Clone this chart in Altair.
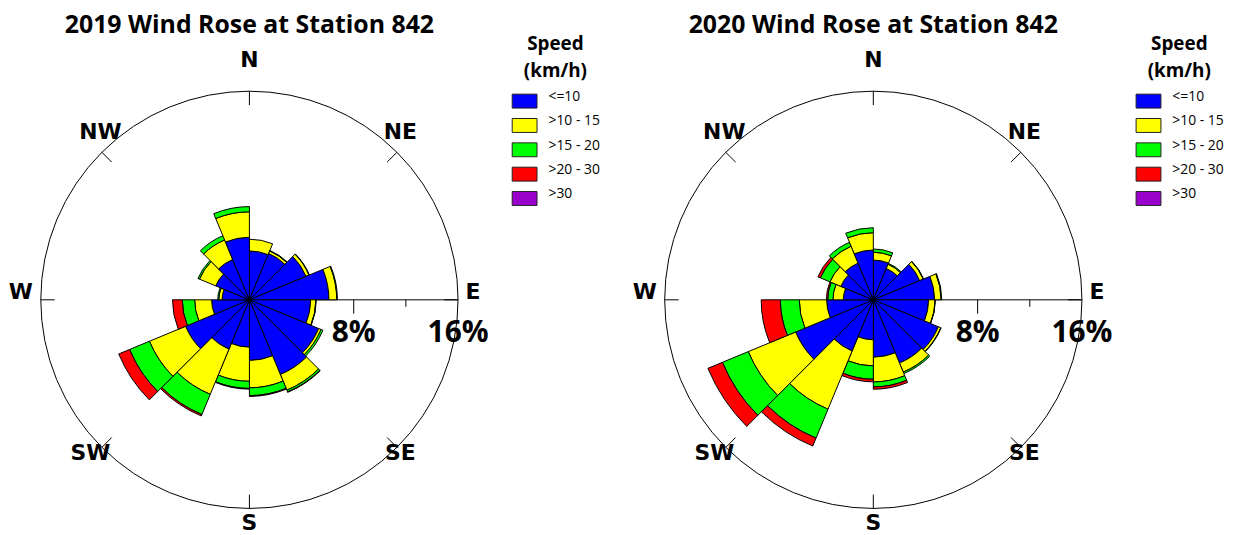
import math
import pandas as pd
import altair as alt

# ---------------- data ----------------
SECTORS = ["N", "NNE", "NE", "ENE", "E", "ESE", "SE", "SSE",
           "S", "SSW", "SW", "WSW", "W", "WNW", "NW", "NNW"]
SPEEDS = ["<=10", ">10 - 15", ">15 - 20", ">20 - 30", ">30"]
COLORS = ["#0000FF", "#FFFF00", "#00FF00", "#FF0000", "#9900CC"]

Y2019_LE10 = [3.75, 3.85, 4.70, 6.10, 4.70, 5.75, 6.20, 4.65, 3.63, 4.10, 5.30, 2.90, 2.10, 2.80, 3.35, 4.80]
Y2019_10_15 = [0.90, 0.20, 0.25, 0.60, 0.40, 0.20, 1.30, 2.10, 2.62, 3.75, 3.00, 1.30, 0.25, 1.35, 1.62, 1.95]
Y2019_15_20 = [0.00, 0.05, 0.03, 0.05, 0.03, 0.15, 0.15, 0.60, 0.55, 1.67, 1.65, 0.95, 0.08, 0.12, 0.35, 0.40]
Y2019_20_30 = [0.00, 0.00, 0.00, 0.00, 0.00, 0.00, 0.03, 0.06, 0.05, 0.12, 0.90, 0.75, 0.00, 0.00, 0.00, 0.00]
Y2019_GT30 = [0.00, 0.00, 0.00, 0.00, 0.00, 0.00, 0.00, 0.00, 0.00, 0.00, 0.00, 0.00, 0.00, 0.00, 0.00, 0.00]

Y2020_LE10 = [3.05, 2.60, 3.85, 4.70, 4.24, 5.40, 5.25, 4.40, 3.07, 4.25, 6.45, 3.58, 2.30, 2.70, 3.05, 3.82]
Y2020_10_15 = [0.60, 0.35, 0.30, 0.50, 0.50, 0.20, 0.75, 1.90, 2.00, 4.83, 3.93, 2.10, 0.80, 0.90, 1.40, 1.33]
Y2020_15_20 = [0.25, 0.08, 0.03, 0.05, 0.02, 0.03, 0.12, 0.38, 1.02, 2.40, 2.15, 1.45, 0.40, 0.80, 0.32, 0.38]
Y2020_20_30 = [0.00, 0.00, 0.00, 0.00, 0.00, 0.00, 0.00, 0.18, 0.20, 0.66, 1.20, 1.47, 0.10, 0.20, 0.00, 0.00]
Y2020_GT30 = [0.00, 0.00, 0.00, 0.00, 0.00, 0.00, 0.00, 0.00, 0.00, 0.00, 0.00, 0.00, 0.00, 0.00, 0.00, 0.00]

TITLES = ["2019 Wind Rose at Station 842", "2020 Wind Rose at Station 842"]
COMPASS = ["N", "NE", "E", "SE", "S", "SW", "W", "NW"]
RING_MAX = 16
PCT_LABELS = [8, 16]
AXIS_TICKS = [4, 8, 12]

# ---------------- layout ----------------
K = 13.125          # pixels per percent
CX, CY = 240, 291   # rose centre inside each panel
H = 527
W1, W2 = 624, 594
LABEL_OFFSETS = {   # pixel offsets of compass labels from the ring point
    "N": (0, -31), "NE": (3.5, -20.5), "E": (15, -8), "SE": (3.5, 5.5),
    "S": (0, 15), "SW": (-11.5, 5.5), "W": (-20, -8), "NW": (-1.5, -20.5),
}
STEP = 360 / len(SECTORS)


def arc_table(series):
    rows = []
    for k, _ in enumerate(SECTORS):
        base = 0.0
        for s, vals in zip(SPEEDS, series):
            v = vals[k]
            if v > 0:
                rows.append(dict(cx=0, cy=0, t0=k * STEP, t1=(k + 1) * STEP,
                                 r0=base, r1=base + v, speed=s, value=v))
            base += v
    return pd.DataFrame(rows)


def panel(title, series, width):
    XS = alt.Scale(domain=[-CX / K, (width - CX) / K], range=[0, width], nice=False, zero=False)
    YS = alt.Scale(domain=[-(H - CY) / K, CY / K], range=[H, 0], nice=False, zero=False)
    TS = alt.Scale(type="linear", domain=[0, 360], range=[0, 2 * math.pi])
    RS = alt.Scale(type="linear", domain=[0, RING_MAX], range=[0, RING_MAX * K], nice=False, zero=True)

    ring = alt.Chart(pd.DataFrame([dict(cx=0, cy=0, t0=0, t1=360, r=RING_MAX)])).mark_arc(
        fill="white", stroke="black", strokeWidth=1
    ).encode(
        x=alt.X("cx:Q", scale=XS, axis=None),
        y=alt.Y("cy:Q", scale=YS, axis=None),
        theta=alt.Theta("t0:Q", scale=TS, stack=False),
        theta2="t1:Q",
        radius=alt.Radius("r:Q", scale=RS, stack=False),
    )

    axis_line = alt.Chart(pd.DataFrame([dict(x0=0, x1=RING_MAX, y=0)])).mark_rule(
        color="black", strokeWidth=1
    ).encode(x=alt.X("x0:Q", scale=XS, axis=None), x2="x1:Q", y=alt.Y("y:Q", scale=YS, axis=None))

    tick_df = pd.DataFrame([dict(x=v, y0=0, y1=-(14 if v % 8 == 0 else 7) / K) for v in AXIS_TICKS])
    axis_ticks = alt.Chart(tick_df).mark_rule(color="black", strokeWidth=1).encode(
        x=alt.X("x:Q", scale=XS, axis=None), y=alt.Y("y0:Q", scale=YS, axis=None), y2="y1:Q"
    )

    crows = []
    for i, name in enumerate(COMPASS):
        a = math.radians(i * 45)
        r_in = RING_MAX - 14 / K
        crows.append(dict(x0=r_in * math.sin(a), y0=r_in * math.cos(a),
                          x1=RING_MAX * math.sin(a), y1=RING_MAX * math.cos(a)))
    ring_ticks = alt.Chart(pd.DataFrame(crows)).mark_rule(color="black", strokeWidth=1).encode(
        x=alt.X("x0:Q", scale=XS, axis=None), y=alt.Y("y0:Q", scale=YS, axis=None),
        x2="x1:Q", y2="y1:Q"
    )

    legend = alt.Legend(
        orient="none", legendX=504, legendY=25, title=["Speed", "(km/h)"],
        titleFont="Open Sans", titleFontSize=19, titleFontWeight="bold", titleColor="black",
        titleAnchor="middle", titleAlign="center", titleLineHeight=27, titlePadding=7,
        symbolType="M-1,-0.56L1,-0.56L1,0.56L-1,0.56Z", symbolSize=625,
        symbolStrokeColor="#222222", symbolStrokeWidth=1, symbolOpacity=1,
        labelFont="Open Sans", labelFontSize=14, labelColor="black",
        labelBaseline="alphabetic", labelOffset=11, rowPadding=2.5, padding=0,
    )
    arcs = alt.Chart(arc_table(series)).mark_arc(stroke="black", strokeWidth=1, opacity=1).encode(
        x=alt.X("cx:Q", scale=XS, axis=None),
        y=alt.Y("cy:Q", scale=YS, axis=None),
        theta=alt.Theta("t0:Q", scale=TS, stack=False),
        theta2="t1:Q",
        radius=alt.Radius("r1:Q", scale=RS, stack=False),
        radius2="r0:Q",
        color=alt.Color("speed:N", scale=alt.Scale(domain=SPEEDS, range=COLORS), legend=legend),
    )

    lrows = []
    for i, name in enumerate(COMPASS):
        a = math.radians(i * 45)
        ox, oy = LABEL_OFFSETS[name]
        lrows.append(dict(x=RING_MAX * math.sin(a) + ox / K, y=RING_MAX * math.cos(a) - oy / K, t=name))
    compass = alt.Chart(pd.DataFrame(lrows)).mark_text(
        font="DejaVu Sans", fontSize=22, fontWeight="bold", color="black", baseline="middle", align="center"
    ).encode(x=alt.X("x:Q", scale=XS, axis=None), y=alt.Y("y:Q", scale=YS, axis=None), text="t:N")

    pct = alt.Chart(pd.DataFrame([dict(x=v, y=-33.5 / K, t=f"{v}%") for v in PCT_LABELS])).mark_text(
        font="Open Sans", fontSize=30, fontWeight="bold", color="black", baseline="middle", align="center"
    ).encode(x=alt.X("x:Q", scale=XS, axis=None), y=alt.Y("y:Q", scale=YS, axis=None), text="t:N")

    ttl = alt.Chart(pd.DataFrame([dict(x=0, y=276.5 / K, t=title)])).mark_text(
        font="Open Sans", fontSize=25, fontWeight="bold", color="black", baseline="middle", align="center"
    ).encode(x=alt.X("x:Q", scale=XS, axis=None), y=alt.Y("y:Q", scale=YS, axis=None), text="t:N")

    return alt.layer(ring, axis_line, axis_ticks, ring_ticks, arcs, compass, pct, ttl).properties(
        width=width, height=H
    )


p1 = panel(TITLES[0], [Y2019_LE10, Y2019_10_15, Y2019_15_20, Y2019_20_30, Y2019_GT30], W1)
p2 = panel(TITLES[1], [Y2020_LE10, Y2020_10_15, Y2020_15_20, Y2020_20_30, Y2020_GT30], W2)

chart = alt.hconcat(p1, p2, spacing=0).resolve_scale(
    color="independent", x="independent", y="independent", theta="independent", radius="independent"
).resolve_legend(color="independent").properties(padding=0).configure_view(stroke="transparent")

chart.save("out.html", embed_options={"renderer": "svg", "actions": False})
